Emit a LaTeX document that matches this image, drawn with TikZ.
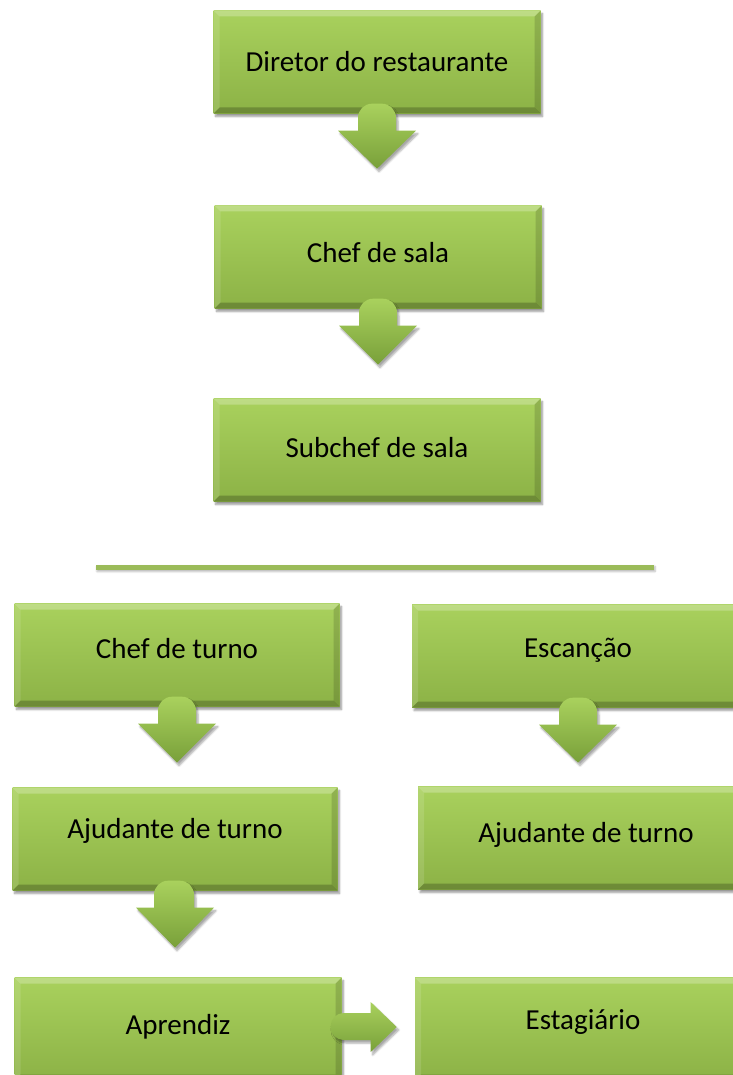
\documentclass[tikz,border=0pt]{standalone}
\usepackage{fontspec}
\setmainfont{Carlito}
\usepackage{tikz}
\usetikzlibrary{calc,shadows.blur}
\definecolor{grtop}{HTML}{A9D15D}
\definecolor{grbot}{HTML}{8CB246}
\definecolor{grdark}{HTML}{79A03A}
\definecolor{lineg}{HTML}{9BBB59}
\tikzstyle{post}=[rectangle, minimum height=103pt, top color=grtop, bottom color=grbot,
        blur shadow={shadow blur steps=5, shadow xshift=2pt, shadow yshift=-3pt, shadow opacity=40},
        text=black, font=\fontsize{29}{34}\selectfont,
        path picture={
          \coordinate (nw) at (path picture bounding box.north west);
          \coordinate (ne) at (path picture bounding box.north east);
          \coordinate (sw) at (path picture bounding box.south west);
          \coordinate (se) at (path picture bounding box.south east);
          \fill[white,opacity=.25] (nw) -- (ne) -- ($(ne)+(-6pt,-6pt)$) -- ($(nw)+(6pt,-6pt)$) -- cycle;
          \fill[white,opacity=.12] (nw) -- ($(nw)+(6pt,-6pt)$) -- ($(sw)+(6pt,6pt)$) -- (sw) -- cycle;
          \fill[black,opacity=.22] (sw) -- (se) -- ($(se)+(-6pt,6pt)$) -- ($(sw)+(6pt,6pt)$) -- cycle;
          \fill[black,opacity=.14] (ne) -- (se) -- ($(se)+(-6pt,6pt)$) -- ($(ne)+(-6pt,-6pt)$) -- cycle;
        }]
\tikzstyle{blockarrow}=[top color=grtop, bottom color=grdark,
        blur shadow={shadow blur steps=5, shadow xshift=2pt, shadow yshift=-3pt, shadow opacity=35}]
\tikzstyle{rule}=[rectangle, minimum width=558pt, minimum height=5pt, inner sep=0pt, fill=lineg,
        blur shadow={shadow blur steps=4, shadow xshift=1pt, shadow yshift=-2pt, shadow opacity=30}]

\begin{document}
\begin{tikzpicture}[x=1pt, y=-1pt]
\useasboundingbox (0,0) rectangle (732,1075);
\node [post, minimum width=327pt] (dir) at (377,62) {Diretor do restaurante};
\node [post, minimum width=327pt, text depth=9pt] (chefsala) at (378,257) {Chef de sala};
\node [post, minimum width=327pt, text depth=6pt] (subchef) at (377,450) {Subchef de sala};
\node [rule] (sep) at (375,567) {};
\node [post, minimum width=325pt, text depth=14pt] (chefturno) at (177,655) {Chef de turno};
\node [post, minimum width=332pt, text depth=17pt] (escancao) at (578,656) {Escanção};
\node [post, minimum width=325pt, text depth=22pt] (ajud1) at (175,839) {Ajudante de turno};
\node [post, minimum width=336pt, text depth=12pt] (ajud2) at (586,838) {Ajudante de turno};
\node [post, minimum width=327pt, text depth=10pt] (aprendiz) at (178,1029) {Aprendiz};
\node [post, minimum width=336pt, text depth=18pt] (estag) at (583,1029) {Estagiário};
% down arrows
\path [blockarrow] ($(dir.south)+(-19,17)$) [rounded corners=14pt] -- ($(dir.south)+(-19,-10)$) -- ($(dir.south)+(19,-10)$) [sharp corners] -- ($(dir.south)+(19,17)$) -- ($(dir.south)+(39,17)$) -- ($(dir.south)+(0,55)$) -- ($(dir.south)+(-39,17)$) -- cycle;
\path [blockarrow] ($(chefsala.south)+(-19,17)$) [rounded corners=14pt] -- ($(chefsala.south)+(-19,-10)$) -- ($(chefsala.south)+(19,-10)$) [sharp corners] -- ($(chefsala.south)+(19,17)$) -- ($(chefsala.south)+(39,17)$) -- ($(chefsala.south)+(0,56)$) -- ($(chefsala.south)+(-39,17)$) -- cycle;
\path [blockarrow] ($(chefturno.south)+(-19,17)$) [rounded corners=14pt] -- ($(chefturno.south)+(-19,-10)$) -- ($(chefturno.south)+(19,-10)$) [sharp corners] -- ($(chefturno.south)+(19,17)$) -- ($(chefturno.south)+(39,17)$) -- ($(chefturno.south)+(0,56)$) -- ($(chefturno.south)+(-39,17)$) -- cycle;
\path [blockarrow] ($(escancao.south)+(-19,17)$) [rounded corners=14pt] -- ($(escancao.south)+(-19,-10)$) -- ($(escancao.south)+(19,-10)$) [sharp corners] -- ($(escancao.south)+(19,17)$) -- ($(escancao.south)+(39,17)$) -- ($(escancao.south)+(0,55)$) -- ($(escancao.south)+(-39,17)$) -- cycle;
\path [blockarrow] ($(ajud1.south)+(-21,17)$) [rounded corners=14pt] -- ($(ajud1.south)+(-21,-10)$) -- ($(ajud1.south)+(19,-10)$) [sharp corners] -- ($(ajud1.south)+(19,17)$) -- ($(ajud1.south)+(39,17)$) -- ($(ajud1.south)+(0,57)$) -- ($(ajud1.south)+(-39,17)$) -- cycle;
% right arrow
\path [blockarrow] ($(aprendiz.east)+(29,-16)$) [rounded corners=13pt] -- ($(aprendiz.east)+(-11,-16)$) -- ($(aprendiz.east)+(-11,11)$) [sharp corners] -- ($(aprendiz.east)+(29,11)$) -- ($(aprendiz.east)+(29,23)$) -- ($(aprendiz.east)+(55,-2)$) -- ($(aprendiz.east)+(29,-27)$) -- cycle;
\end{tikzpicture}
\end{document}
